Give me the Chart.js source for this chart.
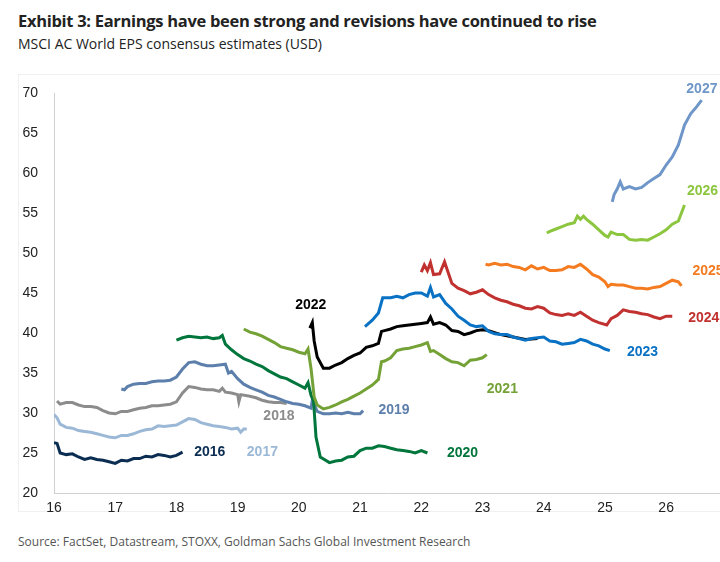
<!DOCTYPE html>
<html>
<head>
<meta charset="utf-8">
<script src="https://cdn.jsdelivr.net/npm/chart.js@4/dist/chart.umd.min.js"></script>
<style>
  body { margin: 0; background: #fff; font-family: "Open Sans", sans-serif; }
  #title { position: absolute; left: 18px; top: 9px; font-size: 16.5px; font-weight: bold; color: #222; letter-spacing: -0.3px; }
  #sub { position: absolute; left: 18px; top: 34px; font-size: 14px; color: #222; }
  #frame { position: absolute; left: 18px; top: 74px; width: 720px; height: 436px; border: 1px solid #f0f0f0; }
  #src { position: absolute; left: 18px; top: 533px; font-size: 12px; color: #555; }
  canvas { position: absolute; left: 0; top: 70px; }
</style>
</head>
<body>
<div id="title">Exhibit 3: Earnings have been strong and revisions have continued to rise</div>
<div id="sub">MSCI AC World EPS consensus estimates (USD)</div>
<div id="frame"></div>
<canvas id="c" width="720" height="450"></canvas>
<div id="src">Source: FactSet, Datastream, STOXX, Goldman Sachs Global Investment Research</div>
<script>
// x = years since 2000, y = EPS estimate
const yTicks = [20, 25, 30, 35, 40, 45, 50, 55, 60, 65, 70];
const xTicks = [16, 17, 18, 19, 20, 21, 22, 23, 24, 25, 26];

const eps2016 = [[16.0,26.3],[16.05,26.2],[16.1,25.0],[16.2,24.8],[16.3,24.9],[16.4,24.5],[16.5,24.2],[16.6,24.4],[16.7,24.2],[16.8,24.1],[16.9,23.9],[17.0,23.7],[17.1,24.1],[17.2,24.0],[17.3,24.3],[17.4,24.3],[17.5,24.6],[17.6,24.5],[17.7,24.8],[17.8,24.7],[17.9,24.5],[18.0,24.7],[18.1,25.1]];
const eps2017 = [[16.0,29.8],[16.05,29.4],[16.1,28.6],[16.2,28.2],[16.3,28.1],[16.4,27.8],[16.5,27.7],[16.6,27.6],[16.7,27.4],[16.8,27.2],[16.9,27.0],[17.0,26.9],[17.1,27.2],[17.2,27.2],[17.3,27.4],[17.4,27.7],[17.5,27.9],[17.6,28.0],[17.7,28.4],[17.8,28.3],[17.9,28.4],[18.0,28.5],[18.1,28.9],[18.2,29.3],[18.3,29.2],[18.4,28.8],[18.5,28.6],[18.6,28.4],[18.7,28.3],[18.8,28.2],[18.9,28.0],[19.0,28.1],[19.05,27.6],[19.1,28.0],[19.15,28.0]];
const eps2018 = [[16.05,31.5],[16.1,31.1],[16.2,31.3],[16.3,31.3],[16.4,31.0],[16.5,30.8],[16.6,30.8],[16.7,30.7],[16.8,30.3],[16.9,30.0],[17.0,29.9],[17.1,30.2],[17.2,30.2],[17.3,30.4],[17.4,30.6],[17.5,30.7],[17.6,30.9],[17.7,30.9],[17.8,31.0],[17.9,31.1],[18.0,31.4],[18.1,32.5],[18.2,33.3],[18.3,33.2],[18.4,33.0],[18.5,32.9],[18.6,32.9],[18.7,32.7],[18.75,33.1],[18.8,32.6],[18.9,32.5],[19.0,32.3],[19.02,31.4],[19.05,32.3],[19.2,32.1],[19.3,31.9],[19.4,31.6],[19.5,31.4],[19.6,31.3],[19.7,31.3],[19.8,31.2]];
const eps2019 = [[17.1,33.0],[17.15,32.9],[17.2,33.3],[17.3,33.6],[17.4,33.7],[17.5,33.7],[17.6,33.9],[17.7,34.0],[17.8,34.0],[17.9,34.1],[18.0,34.5],[18.1,35.5],[18.2,36.3],[18.3,36.4],[18.4,36.1],[18.5,35.9],[18.6,35.9],[18.7,36.0],[18.8,36.1],[18.85,35.0],[18.9,35.2],[19.0,34.3],[19.1,33.6],[19.2,33.2],[19.3,32.9],[19.4,32.6],[19.5,32.2],[19.6,32.0],[19.7,31.7],[19.8,31.4],[19.9,31.2],[20.0,31.1],[20.1,30.9],[20.2,30.6],[20.22,31.6],[20.3,30.2],[20.4,29.9],[20.5,29.9],[20.6,30.0],[20.7,29.9],[20.8,30.1],[20.9,29.9],[21.0,29.9],[21.05,30.3]];
const eps2020 = [[18.0,39.1],[18.1,39.4],[18.2,39.6],[18.3,39.5],[18.4,39.4],[18.5,39.5],[18.6,39.3],[18.7,39.4],[18.75,39.7],[18.8,38.6],[18.9,37.9],[19.0,37.3],[19.1,36.8],[19.2,36.5],[19.3,36.1],[19.4,35.8],[19.5,35.3],[19.6,34.9],[19.7,34.5],[19.8,34.3],[19.9,33.9],[20.0,33.5],[20.1,33.1],[20.15,33.8],[20.2,32.2],[20.24,31.5],[20.28,27.0],[20.35,24.5],[20.5,23.8],[20.6,24.0],[20.7,24.1],[20.8,24.5],[20.9,24.6],[21.0,25.3],[21.1,25.6],[21.2,25.6],[21.3,25.9],[21.4,25.8],[21.5,25.6],[21.6,25.4],[21.7,25.3],[21.8,25.2],[21.9,25.0],[22.0,25.3],[22.1,25.0]];
const eps2021 = [[19.1,40.5],[19.2,40.1],[19.3,39.9],[19.4,39.6],[19.5,39.2],[19.6,38.8],[19.7,38.3],[19.8,38.1],[19.9,37.9],[20.0,37.6],[20.1,37.4],[20.15,38.0],[20.2,35.5],[20.25,32.0],[20.3,31.0],[20.4,30.5],[20.5,30.7],[20.6,31.0],[20.7,31.4],[20.8,31.7],[20.9,32.1],[21.0,32.5],[21.1,33.0],[21.2,33.5],[21.3,34.2],[21.35,36.4],[21.4,36.5],[21.5,36.9],[21.6,37.8],[21.7,38.0],[21.8,38.1],[21.9,38.3],[22.0,38.5],[22.1,38.8],[22.15,37.7],[22.2,37.8],[22.3,37.3],[22.4,36.8],[22.5,36.4],[22.6,36.3],[22.7,35.9],[22.8,36.6],[22.9,36.7],[23.0,36.9],[23.07,37.3]];
const eps2022 = [[20.18,40.6],[20.22,41.3],[20.25,39.0],[20.3,37.0],[20.4,35.6],[20.5,35.6],[20.6,36.0],[20.7,36.3],[20.8,36.8],[20.9,37.2],[21.0,37.5],[21.1,38.2],[21.2,38.4],[21.3,38.7],[21.35,40.2],[21.4,40.3],[21.5,40.5],[21.6,40.8],[21.7,40.9],[21.8,41.0],[21.9,41.1],[22.0,41.2],[22.1,41.3],[22.15,42.0],[22.2,41.1],[22.3,41.3],[22.4,41.0],[22.5,40.3],[22.6,40.2],[22.7,39.8],[22.8,40.0],[22.9,40.3],[23.0,40.4],[23.1,40.3],[23.3,39.8],[23.5,39.5],[23.7,39.2],[23.9,39.3]];
const eps2023 = [[21.08,40.8],[21.2,41.6],[21.3,42.5],[21.37,44.4],[21.5,44.4],[21.6,44.6],[21.7,44.4],[21.8,44.8],[21.9,45.0],[22.0,45.0],[22.1,44.6],[22.15,45.7],[22.2,44.5],[22.3,44.8],[22.4,43.7],[22.5,43.0],[22.6,42.1],[22.7,41.6],[22.8,41.0],[22.9,40.8],[23.0,40.9],[23.1,40.2],[23.2,39.9],[23.3,39.8],[23.4,39.8],[23.5,39.5],[23.6,39.3],[23.7,39.1],[23.8,39.3],[23.9,39.4],[24.0,39.5],[24.1,39.0],[24.2,38.9],[24.3,38.6],[24.4,38.7],[24.5,38.8],[24.6,39.2],[24.7,39.0],[24.8,38.6],[24.9,38.4],[25.0,38.0],[25.08,37.8]];
const eps2024 = [[22.0,47.6],[22.05,48.5],[22.1,47.8],[22.15,48.8],[22.2,47.3],[22.3,47.4],[22.38,48.9],[22.45,47.3],[22.5,46.2],[22.6,45.6],[22.7,45.3],[22.8,44.9],[22.9,45.1],[23.0,45.4],[23.1,44.8],[23.2,44.4],[23.3,44.1],[23.4,43.9],[23.5,43.6],[23.6,43.4],[23.7,43.1],[23.8,43.0],[23.9,43.3],[24.0,43.1],[24.1,42.5],[24.2,42.3],[24.3,42.2],[24.4,42.4],[24.5,42.2],[24.6,42.6],[24.7,42.1],[24.8,41.6],[24.9,41.3],[25.03,41.0],[25.1,41.8],[25.2,42.2],[25.3,42.9],[25.4,42.7],[25.5,42.6],[25.6,42.4],[25.7,42.3],[25.8,42.0],[25.9,41.8],[26.0,42.1],[26.1,42.1]];
const eps2025 = [[23.05,48.6],[23.1,48.5],[23.2,48.7],[23.3,48.5],[23.4,48.6],[23.5,48.3],[23.6,48.2],[23.7,47.9],[23.8,48.4],[23.9,48.0],[24.0,48.2],[24.1,47.8],[24.2,47.8],[24.3,47.9],[24.4,48.3],[24.5,48.2],[24.6,48.6],[24.7,48.0],[24.8,47.3],[24.9,47.0],[25.0,46.4],[25.05,45.8],[25.1,46.1],[25.2,46.0],[25.3,46.0],[25.4,45.8],[25.5,45.6],[25.6,45.6],[25.7,45.5],[25.8,45.7],[25.9,45.8],[26.0,46.2],[26.1,46.6],[26.2,46.4],[26.25,45.9]];
const eps2026 = [[24.05,52.5],[24.1,52.7],[24.2,53.0],[24.3,53.3],[24.4,53.6],[24.5,53.8],[24.55,54.6],[24.6,54.2],[24.65,54.6],[24.7,54.2],[24.8,53.6],[24.9,52.9],[25.0,52.2],[25.05,52.0],[25.1,52.6],[25.2,52.3],[25.3,52.3],[25.4,51.7],[25.5,51.6],[25.6,51.7],[25.7,51.6],[25.8,52.0],[25.9,52.4],[26.0,52.9],[26.1,53.6],[26.2,54.0],[26.25,55.0],[26.3,56.0]];
const eps2027 = [[25.12,56.4],[25.15,57.3],[25.2,58.0],[25.25,58.9],[25.3,58.0],[25.4,58.3],[25.5,58.0],[25.6,58.2],[25.7,58.8],[25.8,59.3],[25.9,59.8],[26.0,61.0],[26.1,62.0],[26.2,63.5],[26.3,66.0],[26.4,67.4],[26.5,68.3],[26.58,69.1]];

const seriesNames = ["2016","2017","2018","2019","2020","2021","2022","2023","2024","2025","2026","2027"];
const seriesData = [eps2016, eps2017, eps2018, eps2019, eps2020, eps2021, eps2022, eps2023, eps2024, eps2025, eps2026, eps2027];
const seriesColors = ["#0b2d52","#9bb8d6","#8c8c8c","#5d7fab","#00763c","#74a236","#000000","#0a72c4","#c0312f","#f47b20","#8cc63f","#6f96c8"];
// label anchor (x, y) per series
const labelX = [18.29, 19.15, 19.42, 21.3, 22.42, 23.07, 19.94, 25.36, 26.36, 26.43, 26.34, 26.33];
const labelY = [25.1, 25.1, 29.6, 30.4, 25.0, 33.0, 43.5, 37.6, 41.9, 47.75, 57.75, 70.5];

const labelPlugin = {
  id: "labels",
  afterDatasetsDraw(chart) {
    const ctx = chart.ctx;
    const xs = chart.scales.x, ys = chart.scales.y;
    ctx.save();
    ctx.font = "bold 14px 'Liberation Sans', Arial, sans-serif";
    ctx.textBaseline = "middle";
    seriesNames.forEach((n, i) => {
      ctx.fillStyle = seriesColors[i];
      ctx.fillText(n, xs.getPixelForValue(labelX[i]), ys.getPixelForValue(labelY[i]));
    });
    ctx.restore();
  }
};

new Chart(document.getElementById("c"), {
  type: "line",
  data: {
    datasets: seriesData.map((d, i) => ({
      label: seriesNames[i],
      data: d.map(p => ({ x: p[0], y: p[1] })),
      borderColor: seriesColors[i],
      borderWidth: 3,
      pointRadius: 0,
      tension: 0,
      order: -i, // later years drawn on top
    })),
  },
  options: {
    responsive: false,
    animation: false,
    layout: { padding: { top: 23, right: 0 } },
    plugins: { legend: { display: false }, tooltip: { enabled: false } },
    scales: {
      x: {
        type: "linear",
        min: 16,
        max: 26.88,
        afterBuildTicks: (s) => { s.ticks = xTicks.map(v => ({ value: v })); },
        afterFit: (s) => { s.height = 27; },
        grid: { display: false, drawTicks: true, tickLength: 5, color: "#ccc" },
        border: { color: "#d0d0d0" },
        ticks: { color: "#222", font: { size: 14, family: "'Liberation Sans', Arial" }, padding: 2, maxRotation: 0 },
      },
      y: {
        min: 20,
        max: 70,
        afterBuildTicks: (s) => { s.ticks = yTicks.map(v => ({ value: v })); },
        afterFit: (s) => { s.width = 54; },
        grid: { display: false },
        border: { color: "#d0d0d0" },
        ticks: { color: "#222", font: { size: 14, family: "'Liberation Sans', Arial" }, padding: 8 },
      },
    },
  },
  plugins: [labelPlugin],
});
</script>
</body>
</html>
